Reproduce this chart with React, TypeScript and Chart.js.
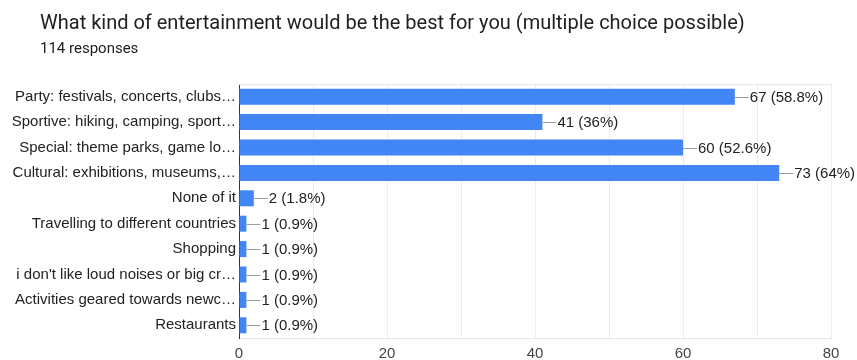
import React, { useEffect, useRef } from "react";
import { Chart, registerables } from "chart.js";

Chart.register(...registerables);

const TITLE = "What kind of entertainment would be the best for you (multiple choice possible)";
const SUBTITLE = "114 responses";

const categories = [
  "Party: festivals, concerts, clubs…",
  "Sportive: hiking, camping, sport…",
  "Special: theme parks, game lo…",
  "Cultural: exhibitions, museums,…",
  "None of it",
  "Travelling to different countries",
  "Shopping",
  "i don't like loud noises or big cr…",
  "Activities geared towards newc…",
  "Restaurants",
];

const counts = [67, 41, 60, 73, 2, 1, 1, 1, 1, 1];
const percents = ["58.8%", "36%", "52.6%", "64%", "1.8%", "0.9%", "0.9%", "0.9%", "0.9%", "0.9%"];

const xTicks = [0, 20, 40, 60, 80];

const FAMILY = "Arial, 'Liberation Sans', sans-serif";
const LABEL_FONT = `15px ${FAMILY}`;

const valueLabelPlugin = {
  id: "valueLabels",
  afterDatasetsDraw(chart: any) {
    const ctx = chart.ctx;
    const meta = chart.getDatasetMeta(0);
    ctx.save();
    ctx.font = LABEL_FONT;
    ctx.textBaseline = "middle";
    ctx.textAlign = "left";
    meta.data.forEach((bar: any, i: number) => {
      const x = bar.x;
      const y = bar.y;
      ctx.strokeStyle = "#9e9e9e";
      ctx.lineWidth = 1;
      ctx.beginPath();
      ctx.moveTo(x, Math.round(y) + 0.5);
      ctx.lineTo(x + 14, Math.round(y) + 0.5);
      ctx.stroke();
      ctx.fillStyle = "#222222";
      ctx.fillText(`${counts[i]} (${percents[i]})`, x + 15, y + 1);
    });
    ctx.restore();
  },
};

const framePlugin = {
  id: "frame",
  beforeDatasetsDraw(chart: any) {
    const { ctx, chartArea } = chart;
    ctx.save();
    ctx.strokeStyle = "#e6e6e6";
    ctx.lineWidth = 1;
    ctx.beginPath();
    ctx.moveTo(chartArea.left, chartArea.top + 0.5);
    ctx.lineTo(chartArea.right, chartArea.top + 0.5);
    ctx.stroke();
    ctx.restore();
  },
};

export default function App() {
  const canvasRef = useRef<HTMLCanvasElement | null>(null);

  useEffect(() => {
    if (!canvasRef.current) return;
    const chart = new Chart(canvasRef.current, {
      type: "bar",
      data: {
        labels: categories,
        datasets: [
          {
            data: counts,
            backgroundColor: "#4285f4",
            borderWidth: 0,
            categoryPercentage: 1,
            barPercentage: 0.63,
          },
        ],
      },
      options: {
        indexAxis: "y",
        responsive: false,
        animation: false,
        maintainAspectRatio: false,
        layout: { padding: { top: 84, right: 26, bottom: 0, left: 0 } },
        plugins: {
          legend: { display: false },
          tooltip: { enabled: false },
          title: { display: false },
        },
        scales: {
          x: {
            min: 0,
            max: 80,
            afterBuildTicks: (scale: any) => {
              const t: any[] = [];
              for (let v = 0; v <= 80; v += 10) t.push({ value: v });
              scale.ticks = t;
            },
            afterFit: (scale: any) => {
              scale.height = 22;
            },
            ticks: {
              autoSkip: false,
              maxRotation: 0,
              padding: 7,
              color: "#444444",
              font: { family: FAMILY, size: 15 },
              callback: (v: any) => (xTicks.includes(Number(v)) ? String(v) : ""),
            },
            grid: {
              color: "#ececec",
              drawTicks: false,
            },
            border: { display: true, color: "#e6e6e6" },
          },
          y: {
            afterFit: (scale: any) => {
              scale.width = 239;
            },
            ticks: {
              autoSkip: false,
              padding: 3,
              color: "#222222",
              font: { family: FAMILY, size: 15 },
            },
            grid: { display: false, drawTicks: false },
            border: { display: true, color: "#333333", width: 1 },
          },
        },
      },
      plugins: [framePlugin, valueLabelPlugin],
    });
    return () => chart.destroy();
  }, []);

  return (
    <div style={{ position: "fixed", left: 0, top: 0, width: 857, height: 360, background: "#ffffff" }}>
      <canvas ref={canvasRef} width={857} height={360} style={{ position: "absolute", left: 0, top: 0 }} />
      <div
        style={{
          position: "absolute",
          left: 40,
          top: 9,
          fontFamily: "Roboto, Arial, sans-serif",
          fontSize: 20,
          lineHeight: "26px",
          color: "#202124",
          whiteSpace: "nowrap",
        }}
      >
        {TITLE}
      </div>
      <div
        style={{
          position: "absolute",
          left: 40,
          top: 38,
          fontFamily: "Roboto, Arial, sans-serif",
          fontSize: 15,
          lineHeight: "20px",
          color: "#202124",
          whiteSpace: "nowrap",
        }}
      >
        {SUBTITLE}
      </div>
    </div>
  );
}
